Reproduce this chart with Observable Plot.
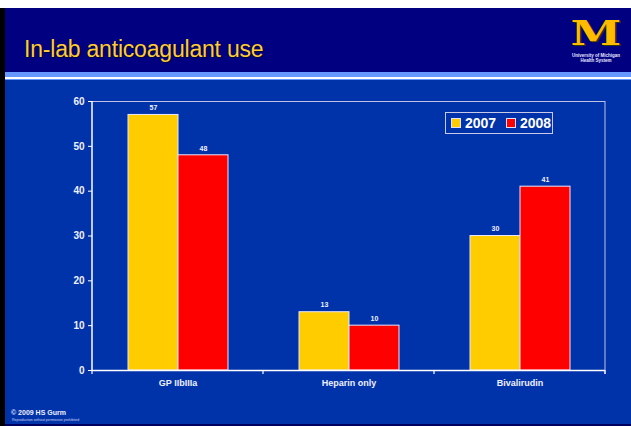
<!DOCTYPE html>
<html>
<head>
<meta charset="utf-8">
<script src="https://cdn.jsdelivr.net/npm/d3@7"></script>
<script src="https://cdn.jsdelivr.net/npm/@observablehq/plot@0.6"></script>
<style>
  html, body { margin: 0; padding: 0; background: #ffffff; }
  body { width: 631px; height: 426px; position: relative; overflow: hidden; font-family: "Liberation Sans", Arial, sans-serif; }
  #slide { position: absolute; left: 0; top: 8px; width: 631px; height: 418px; background: #0033aa; border-left: 5px solid #000; box-sizing: border-box; }
  #header { position: absolute; left: 0; top: 0; width: 100%; height: 64px; background: #000080; }
  #stripe1 { position: absolute; left: 0; top: 64px; width: 100%; height: 5px; background: #6699ff; }
  #stripe2 { position: absolute; left: 0; top: 69px; width: 100%; height: 1.5px; background: #ffffff; }
  #stripe3 { position: absolute; left: 0; top: 70.5px; width: 100%; height: 1.5px; background: #6699ff; }
  #title { position: absolute; left: 19px; top: 28px; font-size: 23px; letter-spacing: -0.2px; color: #ffcc33; text-shadow: 1px 1px 1px #000033; white-space: nowrap; }
  #logoM { position: absolute; left: 566px; top: 10px; width: 50px; height: 30px; text-align: center; font-family: "DejaVu Serif", serif; font-weight: bold; font-size: 34px; line-height: 30px; color: #ffbb00; text-shadow: 1px 1px 0 #333300; transform: scaleX(1.35); }
  #logoT { position: absolute; left: 561px; top: 45px; width: 60px; text-align: center; font-size: 4.5px; line-height: 5px; color: #e8e8ff; font-weight: bold; }
  #chart { position: absolute; left: 0; top: 85px; }
  #legend { position: absolute; left: 445px; top: 112px; width: 108px; height: 22px; border: 1px solid #c8c8e8; box-sizing: border-box; color: #ffffff; font-weight: bold; font-size: 14px; line-height: 20px; white-space: nowrap; }
  #legend span.sw { display: inline-block; width: 8px; height: 8px; border: 0.5px solid #e0e0ff; vertical-align: 0px; margin-right: 4px; }
  #legend .item { position: absolute; top: 0; }
  #copy { position: absolute; left: 6px; top: 401px; font-size: 7px; font-weight: bold; color: #f0f0ff; white-space: nowrap; }
  #repro { position: absolute; left: 7px; top: 410px; font-size: 3.5px; color: #d0d0f0; white-space: nowrap; }
  #bottomline { position: absolute; left: 0; bottom: 0; width: 100%; height: 2px; background: #000060; }
</style>
</head>
<body>
<div id="slide">
  <div id="header"></div>
  <div id="stripe1"></div>
  <div id="stripe2"></div>
  <div id="stripe3"></div>
  <div id="title">In-lab anticoagulant use</div>
  <div id="logoM">M</div>
  <div id="logoT">University of Michigan<br>Health System</div>
  <div id="copy">© 2009 HS Gurm</div>
  <div id="repro">Reproduction without permission prohibited</div>
  <div id="bottomline"></div>
</div>
<div id="chart"></div>
<div id="legend"></div>
<script>
const categories = ["GP IIbIIIa", "Heparin only", "Bivalirudin"];
const years = ["2007", "2008"];
const values2007 = [57, 13, 30];
const values2008 = [48, 10, 41];
const yTicks = [0, 10, 20, 30, 40, 50, 60];
const yearColors = ["#ffcc00", "#ff0000"];

const data = [];
categories.forEach((c, i) => {
  data.push({category: c, year: years[0], value: values2007[i]});
  data.push({category: c, year: years[1], value: values2008[i]});
});

const W = 631, H = 315;
const plot = Plot.plot({
  width: W,
  height: H,
  marginLeft: 92,
  marginRight: 26,
  marginTop: 16,
  marginBottom: 30,
  style: {background: "none", color: "#ffffff", fontFamily: "Liberation Sans, Arial, sans-serif"},
  fx: {domain: categories, padding: 0, label: null},
  x: {domain: years, paddingInner: 0, paddingOuter: 0.71, axis: null},
  y: {domain: [0, 60], axis: null},
  color: {domain: years, range: yearColors},
  marks: [
    Plot.ruleY([60], {stroke: "#c0c0e8", strokeWidth: 1}),
    Plot.barY(data, {fx: "category", x: "year", y: "value", fill: "year", stroke: "#e6e6ff", strokeWidth: 1, inset: 0}),
    Plot.text(data, {fx: "category", x: "year", y: "value", text: d => String(d.value), dy: -7, fontSize: 7, fontWeight: "bold", fill: "#f0f0ff"}),
    Plot.ruleY([0], {stroke: "#ffffff", strokeWidth: 1.5}),
    Plot.axisY({ticks: yTicks, tickSize: 4, tickPadding: 4, fontSize: 10, fontWeight: "bold", fill: "#f0f0ff", stroke: "#ffffff", label: null}),
    Plot.axisFx({anchor: "bottom", tickSize: 0, tickPadding: 9, fontSize: 9, fontWeight: "bold", fill: "#f0f0ff", label: null})
  ]
});
document.getElementById("chart").appendChild(plot);

// frame lines and category boundary ticks, from the plot's own scales
const ys = plot.scale("y");
const fxs = plot.scale("fx");
const y0 = ys.apply(0), y60 = ys.apply(60);
const bounds = categories.map(c => fxs.apply(c));
bounds.push(fxs.apply(categories[categories.length - 1]) + fxs.bandwidth);
const g = d3.select(plot).append("g");
g.append("line").attr("x1", bounds[0]).attr("x2", bounds[0]).attr("y1", y60).attr("y2", y0)
  .attr("stroke", "#ffffff").attr("stroke-width", 1.5);
g.append("line").attr("x1", bounds[3]).attr("x2", bounds[3]).attr("y1", y60).attr("y2", y0 + 4)
  .attr("stroke", "#c0c0e8").attr("stroke-width", 1);
bounds.forEach(b => {
  g.append("line").attr("x1", b).attr("x2", b).attr("y1", y0).attr("y2", y0 + 4)
    .attr("stroke", "#ffffff").attr("stroke-width", 1.2);
});

// legend
const legend = document.getElementById("legend");
const offsets = [5, 60];
years.forEach((yr, i) => {
  const item = document.createElement("div");
  item.className = "item";
  item.style.left = offsets[i] + "px";
  item.innerHTML = `<span class="sw" style="background:${yearColors[i]}"></span>${yr}`;
  legend.appendChild(item);
});
</script>
</body>
</html>
